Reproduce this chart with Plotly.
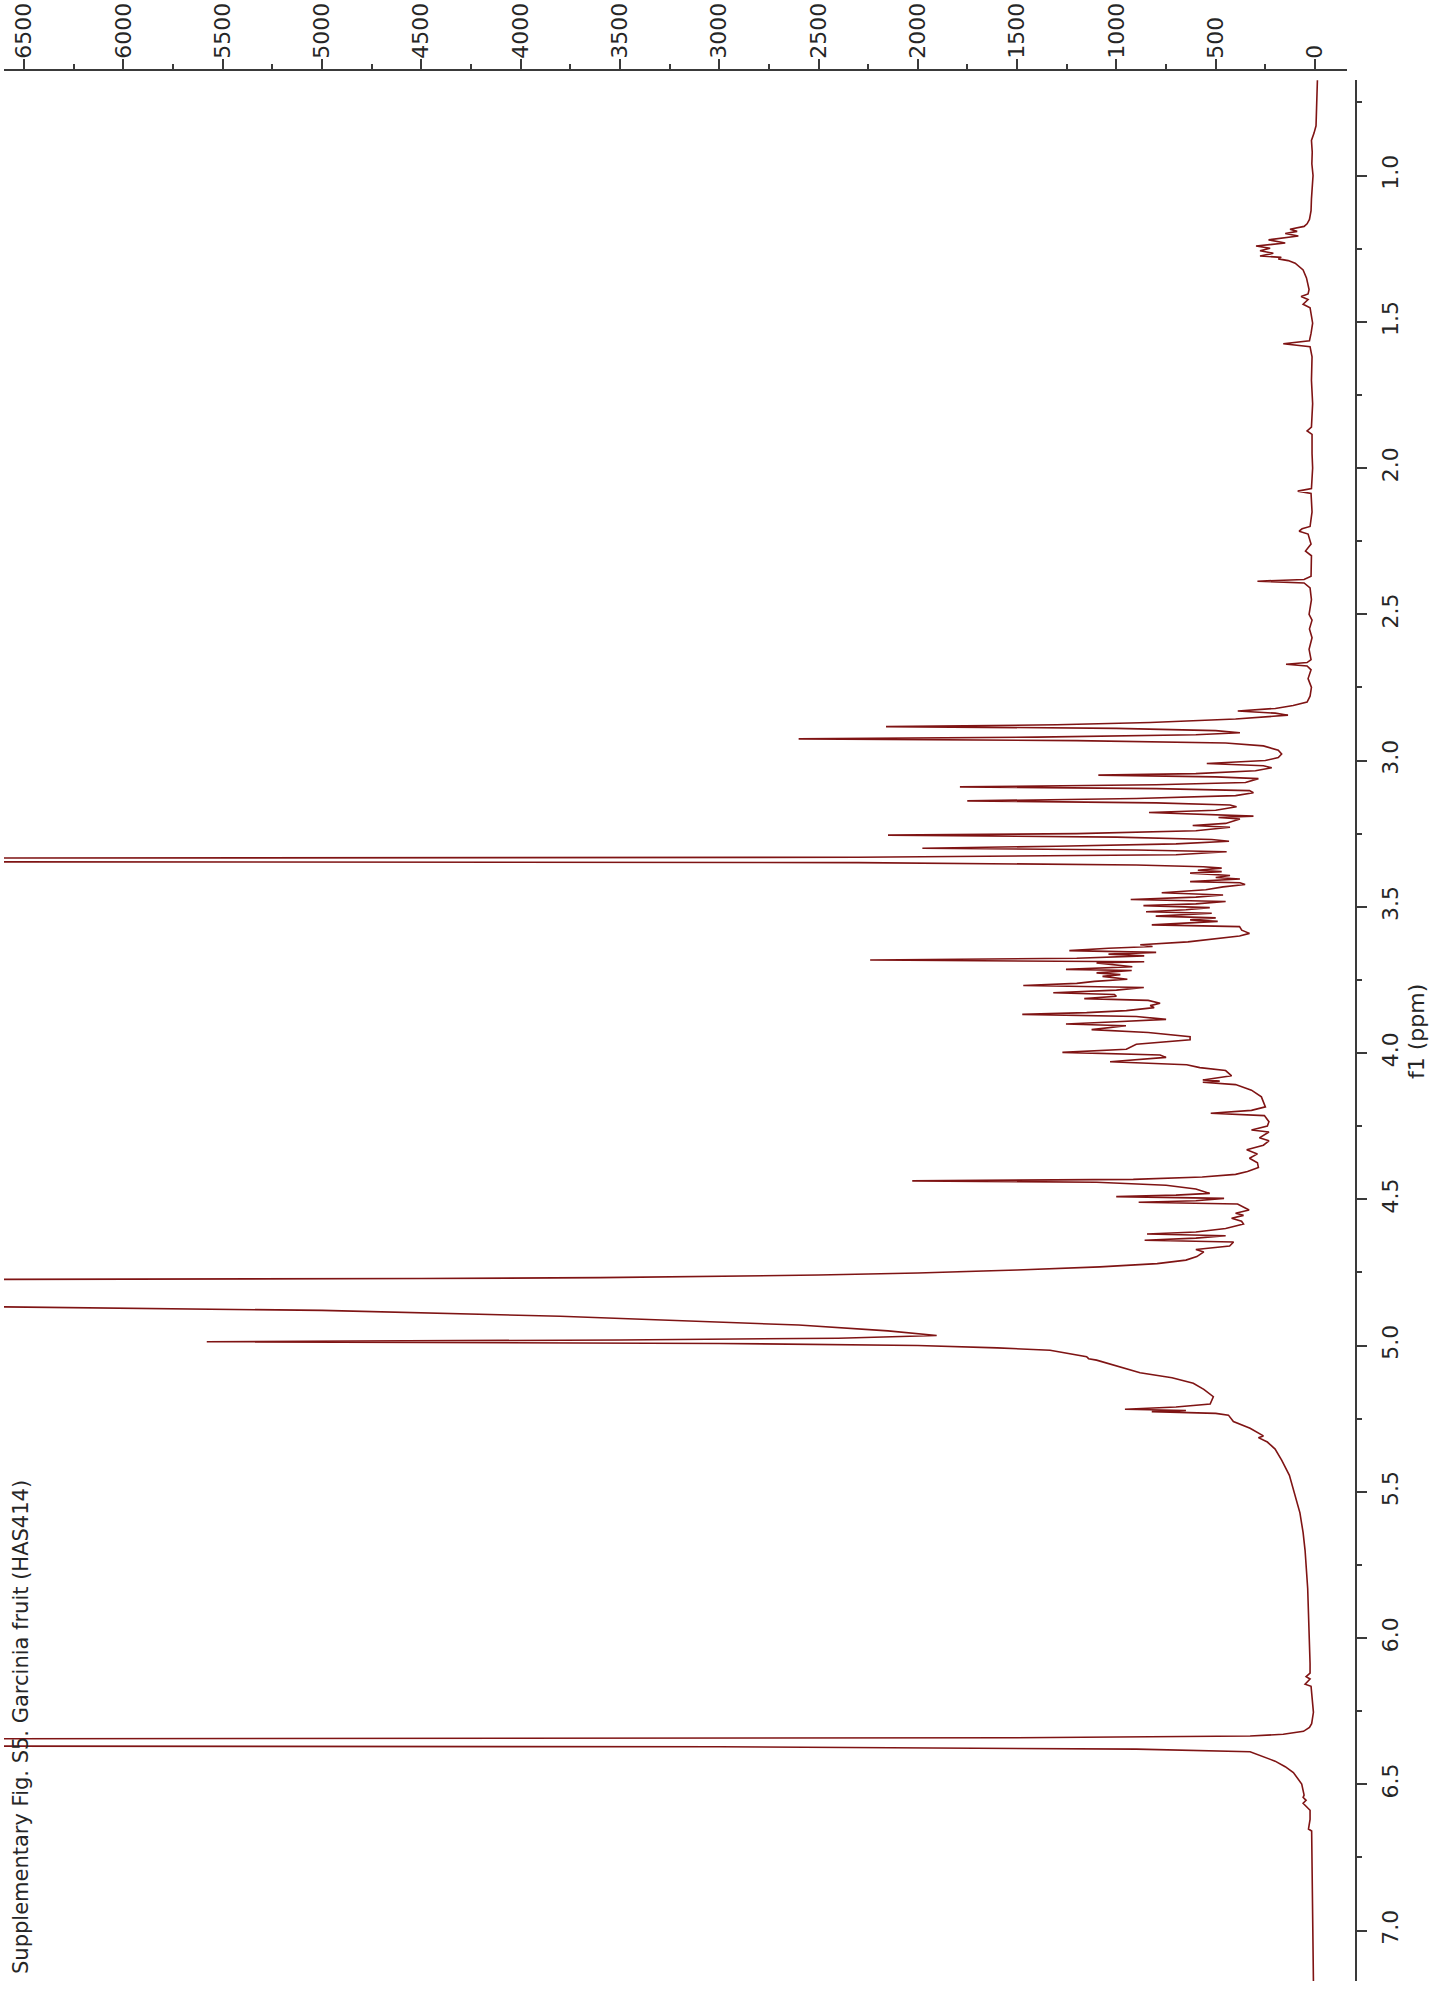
import plotly.graph_objects as go

# ---------------- data ----------------
ppm = [
    0.674, 0.72, 0.78, 0.83, 0.855, 0.88, 0.92, 0.96, 1.00, 1.04, 1.08, 1.12, 1.15, 1.165, 1.174,
    1.184, 1.191, 1.198, 1.207, 1.220, 1.231, 1.241, 1.249, 1.257, 1.266, 1.275, 1.280, 1.285,
    1.291, 1.300, 1.323, 1.350, 1.390, 1.405, 1.414, 1.424, 1.440, 1.452, 1.475, 1.505, 1.540,
    1.565, 1.575, 1.585, 1.62, 1.70, 1.78, 1.86, 1.873, 1.885, 1.95, 2.00, 2.07, 2.079, 2.087,
    2.15, 2.20, 2.208, 2.216, 2.226, 2.26, 2.284, 2.30, 2.37, 2.381, 2.387, 2.393, 2.41, 2.45,
    2.50, 2.52, 2.55, 2.58, 2.62, 2.655, 2.665, 2.671, 2.677, 2.69, 2.72, 2.75, 2.78, 2.80,
    2.812, 2.822, 2.831, 2.838, 2.845, 2.858, 2.870, 2.878, 2.884, 2.890, 2.898, 2.905, 2.912,
    2.920, 2.926, 2.932, 2.940, 2.950, 2.965, 2.978, 2.990, 3.000, 3.010, 3.018, 3.025, 3.035,
    3.045, 3.050, 3.056, 3.062, 3.075, 3.083, 3.090, 3.096, 3.103, 3.110, 3.120, 3.130, 3.138,
    3.145, 3.152, 3.158, 3.170, 3.178, 3.185, 3.190, 3.195, 3.200, 3.215, 3.222, 3.228, 3.240,
    3.250, 3.255, 3.262, 3.270, 3.276, 3.285, 3.293, 3.300, 3.306, 3.312, 3.322, 3.331, 3.335,
    3.345, 3.349, 3.357, 3.363, 3.368, 3.375, 3.380, 3.385, 3.393, 3.400, 3.405, 3.414, 3.418,
    3.424, 3.432, 3.442, 3.452, 3.460, 3.467, 3.475, 3.482, 3.490, 3.496, 3.503, 3.510, 3.517,
    3.522, 3.532, 3.538, 3.545, 3.550, 3.562, 3.568, 3.580, 3.591, 3.600, 3.614, 3.620, 3.630,
    3.636, 3.642, 3.650, 3.656, 3.662, 3.668, 3.676, 3.682, 3.688, 3.692, 3.698, 3.705, 3.714,
    3.718, 3.726, 3.732, 3.738, 3.748, 3.755, 3.762, 3.769, 3.776, 3.785, 3.794, 3.800, 3.806,
    3.814, 3.820, 3.830, 3.838, 3.845, 3.855, 3.862, 3.868, 3.875, 3.885, 3.893, 3.901, 3.907,
    3.914, 3.920, 3.930, 3.944, 3.955, 3.970, 3.987, 3.998, 4.007, 4.015, 4.030, 4.040, 4.050,
    4.060, 4.078, 4.092, 4.096, 4.100, 4.108, 4.127, 4.150, 4.184, 4.196, 4.206, 4.214, 4.235,
    4.250, 4.263, 4.270, 4.290, 4.300, 4.315, 4.331, 4.345, 4.360, 4.375, 4.391, 4.405, 4.415,
    4.424, 4.432, 4.437, 4.442, 4.452, 4.465, 4.480, 4.486, 4.491, 4.497, 4.505, 4.510, 4.516,
    4.537, 4.548, 4.555, 4.565, 4.575, 4.585, 4.600, 4.612, 4.619, 4.625, 4.633, 4.640, 4.646,
    4.660, 4.672, 4.680, 4.696, 4.708, 4.720, 4.731, 4.742, 4.752, 4.759, 4.764, 4.768, 4.771,
    4.774, 4.777, 4.860, 4.868, 4.880, 4.900, 4.930, 4.950, 4.966, 4.975, 4.981, 4.987, 4.993,
    5.000, 5.008, 5.016, 5.038, 5.045, 5.050, 5.070, 5.093, 5.110, 5.129, 5.150, 5.175, 5.200,
    5.210, 5.218, 5.222, 5.226, 5.232, 5.238, 5.260, 5.283, 5.300, 5.309, 5.315, 5.330, 5.354,
    5.392, 5.444, 5.508, 5.572, 5.640, 5.701, 5.830, 5.958, 6.087, 6.120, 6.132, 6.140, 6.158,
    6.165, 6.200, 6.254, 6.293, 6.306, 6.319, 6.329, 6.335, 6.341, 6.346, 6.368, 6.372, 6.380,
    6.389, 6.405, 6.421, 6.440, 6.460, 6.499, 6.537, 6.545, 6.555, 6.565, 6.589, 6.620, 6.653,
    6.660, 6.750, 6.859, 6.950, 7.050, 7.173,
]

intensity = [
    -12, -10, -8, -5, 5, 18, 14, 16, 10, 15, 18, 20, 28, 40, 55,
    126, 90, 150, 84, 234, 150, 297, 226, 277, 210, 277, 170, 185,
    135, 100, 60, 43, 30, 35, 70, 35, 60, 25, 20, 12, 20,
    28, 160, 25, 15, 18, 12, 18, 40, 15, 15, 12, 18, 87, 20,
    15, 25, 65, 80, 35, 20, 48, 18, 20, 55, 290, 55, 25, 18,
    30, 15, 28, 15, 30, 20, 40, 146, 40, 20, 35, 18, 25, 40,
    110, 200, 389, 200, 136, 400, 830, 1300, 2160, 1000, 500, 378, 600,
    1400, 2600, 1200, 450, 260, 185, 168, 185, 250, 545, 260, 218, 300,
    600, 1091, 500, 285, 350, 800, 1788, 800, 330, 310, 400, 900, 1751,
    800, 428, 395, 500, 836, 450, 310, 486, 378, 450, 616, 428, 600,
    1200, 2150, 1000, 520, 433, 700, 1300, 1977, 900, 445, 700, 2300, 9000,
    9000, 2300, 900, 562, 470, 590, 470, 629, 428, 500, 378, 629, 378,
    352, 463, 550, 772, 463, 600, 928, 450, 600, 864, 530, 650, 851,
    520, 802, 500, 629, 490, 822, 380, 369, 330, 380, 560, 640, 880,
    818, 1040, 1237, 800, 1040, 860, 1200, 2240, 860, 1100, 1000, 920, 1254,
    923, 1100, 980, 1070, 945, 1110, 1200, 1469, 862, 1000, 1318, 1010, 1000,
    1162, 840, 780, 830, 810, 950, 1150, 1474, 900, 750, 1000, 1254, 952,
    1050, 1125, 840, 629, 629, 900, 950, 1272, 780, 750, 1032, 646, 580,
    450, 420, 565, 480, 565, 400, 320, 270, 250, 320, 525, 255, 232,
    240, 320, 232, 280, 232, 260, 344, 290, 330, 290, 285, 340, 400,
    568, 915, 2028, 1100, 750, 600, 530, 700, 1001, 458, 600, 888, 390,
    332, 400, 360, 420, 370, 360, 450, 600, 846, 450, 600, 858, 410,
    430, 600, 560, 595, 650, 795, 1083, 1500, 2000, 2500, 3000, 3600, 4500,
    6200, 9000, 9000, 6600, 5000, 3800, 2600, 2150, 1905, 2400, 3500, 5580, 3000,
    2000, 1600, 1334, 1150, 1140, 1100, 1000, 881, 720, 613, 560, 512, 528,
    700, 957, 650, 822, 500, 436, 411, 327, 280, 260, 285, 240, 201,
    168, 129, 101, 76, 60, 50, 37, 30, 25, 25, 45, 25, 50,
    20, 15, 8, 17, 28, 58, 160, 327, 1500, 9000, 9000, 3000, 900,
    327, 260, 201, 150, 109, 67, 55, 60, 45, 60, 25, 25, 33,
    17, 15, 12, 12, 10, 8,
]

x_tickvals = [0, 500, 1000, 1500, 2000, 2500, 3000, 3500, 4000, 4500, 5000, 5500, 6000, 6500]
x_ticktext = ["0", "500", "1000", "1500", "2000", "2500", "3000", "3500", "4000", "4500",
              "5000", "5500", "6000", "6500"]
x_minorvals = [250, 750, 1250, 1750, 2250, 2750, 3250, 3750, 4250, 4750, 5250, 5750, 6250]

y_tickvals = [1.0, 1.5, 2.0, 2.5, 3.0, 3.5, 4.0, 4.5, 5.0, 5.5, 6.0, 6.5, 7.0]
y_ticktext = ["1.0", "1.5", "2.0", "2.5", "3.0", "3.5", "4.0", "4.5", "5.0", "5.5", "6.0", "6.5", "7.0"]
y_minorvals = [0.75, 1.25, 1.75, 2.25, 2.75, 3.25, 3.75, 4.25, 4.75, 5.25, 5.75, 6.25, 6.75]

title_text = "Supplementary Fig. S5. Garcinia fruit (HAS414)"
axis_title = "f1 (ppm)"

# ---------------- figure ----------------
W, H = 1443, 1990
ML, MR, MT, MB = 4, 87, 70, 9
PW, PH = W - ML - MR, H - MT - MB

LINE_COL = "#3a3a3a"
TXT_COL = "#262626"
FONT = "DejaVu Sans"

fig = go.Figure(
    go.Scatter(
        x=intensity, y=ppm, mode="lines",
        line=dict(color="#7f1414", width=1.6),
        hoverinfo="skip", showlegend=False,
    )
)

fig.update_layout(
    width=W, height=H,
    margin=dict(l=ML, r=MR, t=MT, b=MB, autoexpand=False),
    plot_bgcolor="white", paper_bgcolor="white",
    showlegend=False,
    xaxis=dict(
        domain=[0, (1347 - ML) / PW],
        range=[6601, -161],
        side="top", anchor="free", position=1,
        showline=True, linecolor=LINE_COL, linewidth=1.5,
        ticks="outside", ticklen=10, tickwidth=1.5, tickcolor=LINE_COL,
        tickmode="array", tickvals=x_tickvals, ticktext=x_ticktext,
        tickangle=-90, ticklabelstandoff=-4,
        tickfont=dict(family=FONT, size=22, color=TXT_COL),
        minor=dict(ticks="outside", ticklen=5, tickwidth=1.5, tickcolor=LINE_COL,
                   tickmode="array", tickvals=x_minorvals, showgrid=False),
        showgrid=False, zeroline=False, automargin=False,
    ),
    yaxis=dict(
        domain=[0, (H - MB - 80) / PH],
        range=[7.1726, 0.6735],
        side="right", anchor="free", position=1,
        showline=True, linecolor=LINE_COL, linewidth=1.5,
        ticks="outside", ticklen=10, tickwidth=1.5, tickcolor=LINE_COL,
        tickmode="array", tickvals=y_tickvals, ticktext=y_ticktext,
        tickangle=-90, ticklabelstandoff=5,
        tickfont=dict(family=FONT, size=22, color=TXT_COL),
        minor=dict(ticks="outside", ticklen=5, tickwidth=1.5, tickcolor=LINE_COL,
                   tickmode="array", tickvals=y_minorvals, showgrid=False),
        showgrid=False, zeroline=False, automargin=False,
    ),
    annotations=[
        dict(
            text=title_text, xref="paper", yref="paper",
            x=(21 - ML) / PW, y=(H - MB - 1727) / PH,
            xanchor="center", yanchor="middle", textangle=-90, showarrow=False,
            font=dict(family=FONT, size=21, color=TXT_COL),
        ),
        dict(
            text=axis_title, xref="paper", yref="paper",
            x=(1416 - ML) / PW, y=(H - MB - 1031) / PH,
            xanchor="center", yanchor="middle", textangle=-90, showarrow=False,
            font=dict(family=FONT, size=22, color=TXT_COL),
        ),
    ],
)

fig.write_html("out.html")
